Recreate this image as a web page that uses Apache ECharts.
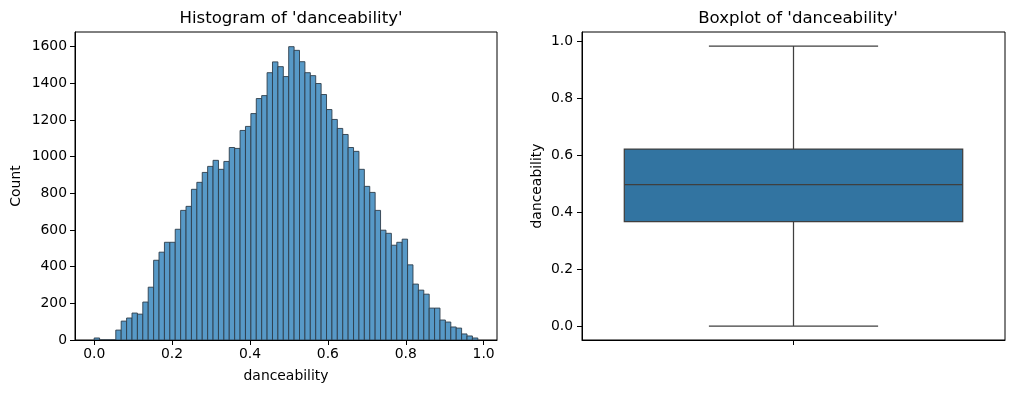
<!DOCTYPE html>
<html>
<head>
<meta charset="utf-8">
<script src="https://cdn.jsdelivr.net/npm/echarts@6/dist/echarts.min.js"></script>
<style>
html,body{margin:0;padding:0;background:#fff;}
#chart{width:1014px;height:393px;}
</style>
</head>
<body>
<div id="chart"></div>
<script>
// Histogram: 71 equal bins spanning [0, 0.985]
const histMin = 0;
const histMax = 0.985;
const histCounts = [11,0,0,0,54,103,120,147,141,207,288,435,479,533,533,604,707,729,822,860,914,947,980,931,974,1050,1045,1143,1165,1235,1317,1333,1458,1517,1491,1437,1600,1580,1518,1458,1442,1399,1339,1257,1203,1154,1121,1050,1029,931,838,805,707,599,582,517,533,550,410,305,272,250,174,174,109,98,71,65,33,22,11];
const histXTicks = [0, 0.2, 0.4, 0.6, 0.8, 1.0];
const histYTicks = [0, 200, 400, 600, 800, 1000, 1200, 1400, 1600];

// Boxplot statistics: [whisker low, Q1, median, Q3, whisker high]
const boxCategories = [''];
const boxStats = [0.0, 0.367, 0.497, 0.6225, 0.985];
const boxYTicks = [0, 0.2, 0.4, 0.6, 0.8, 1.0];

const binWidth = (histMax - histMin) / histCounts.length;
const histData = histCounts.map((c, i) => [histMin + i * binWidth, histMin + (i + 1) * binWidth, c]);

const FONT = 'DejaVu Sans';
const txt = {fontFamily: FONT, fontSize: 13.9, color: '#000'};
const titleTxt = {fontFamily: FONT, fontSize: 16.6, fontWeight: 'normal', color: '#000'};

const chart = echarts.init(document.getElementById('chart'), null, {renderer: 'canvas'});
chart.setOption({
  animation: false,
  backgroundColor: '#fff',
  title: [
    {text: "Histogram of 'danceability'", left: 286, top: 5, textAlign: 'center', textStyle: titleTxt},
    {text: "Boxplot of 'danceability'", left: 793, top: 5, textAlign: 'center', textStyle: titleTxt}
  ],
  grid: [
    {left: 75, top: 32, width: 422, height: 308, show: true, borderColor: '#000', borderWidth: 1, backgroundColor: 'transparent'},
    {left: 582, top: 32, width: 423, height: 308, show: true, borderColor: '#000', borderWidth: 1, backgroundColor: 'transparent'}
  ],
  xAxis: [
    {type: 'value', gridIndex: 0, min: -0.04925, max: 1.03425,
     name: 'danceability', nameLocation: 'middle', nameGap: 29, nameTextStyle: txt,
     axisLine: {show: true, onZero: false, lineStyle: {color: '#000', width: 1}},
     axisTick: {show: true, length: 5, customValues: histXTicks, lineStyle: {color: '#000', width: 1}},
     axisLabel: {customValues: histXTicks, margin: 7, formatter: v => v.toFixed(1), ...txt},
     splitLine: {show: false}},
    {type: 'category', gridIndex: 1, data: boxCategories, boundaryGap: true,
     axisLine: {show: true, onZero: false, lineStyle: {color: '#000', width: 1}},
     axisTick: {show: true, length: 5, alignWithLabel: true, lineStyle: {color: '#000', width: 1}},
     axisLabel: {show: true, formatter: () => '', ...txt},
     splitLine: {show: false}}
  ],
  yAxis: [
    {type: 'value', gridIndex: 0, min: 0, max: 1680,
     name: 'Count', nameLocation: 'middle', nameGap: 52, nameRotate: 90, nameTextStyle: txt,
     axisLine: {show: true, onZero: false, lineStyle: {color: '#000', width: 1}},
     axisTick: {show: true, length: 5, customValues: histYTicks, lineStyle: {color: '#000', width: 1}},
     axisLabel: {customValues: histYTicks, margin: 8, formatter: v => String(v), ...txt},
     splitLine: {show: false}},
    {type: 'value', gridIndex: 1, min: -0.04925, max: 1.03425,
     name: 'danceability', nameLocation: 'middle', nameGap: 38, nameRotate: 90, nameTextStyle: txt,
     axisLine: {show: true, onZero: false, lineStyle: {color: '#000', width: 1}},
     axisTick: {show: true, length: 5, customValues: boxYTicks, lineStyle: {color: '#000', width: 1}},
     axisLabel: {customValues: boxYTicks, margin: 9, formatter: v => v.toFixed(1), ...txt},
     splitLine: {show: false}}
  ],
  series: [
    {
      type: 'custom', xAxisIndex: 0, yAxisIndex: 0,
      data: histData,
      clip: true,
      renderItem: function (params, api) {
        const p0 = api.coord([api.value(0), 0]);
        const p1 = api.coord([api.value(1), api.value(2)]);
        return {
          type: 'rect',
          shape: {x: p0[0], y: p1[1], width: p1[0] - p0[0], height: p0[1] - p1[1]},
          style: {fill: '#5799C7', stroke: '#2e3d4b', lineWidth: 0.9}
        };
      }
    },
    {
      type: 'custom', xAxisIndex: 1, yAxisIndex: 1,
      data: [[0].concat(boxStats)],
      renderItem: function (params, api) {
        const cat = api.value(0);
        const band = api.size([1, 0])[0];
        const boxW = band * 0.8;
        const capW = boxW / 2;
        const pLo = api.coord([cat, api.value(1)]);
        const pQ1 = api.coord([cat, api.value(2)]);
        const pMed = api.coord([cat, api.value(3)]);
        const pQ3 = api.coord([cat, api.value(4)]);
        const pHi = api.coord([cat, api.value(5)]);
        const cx = pMed[0];
        const ls = {stroke: '#3f3f3f', lineWidth: 1.25, fill: null};
        return {
          type: 'group',
          children: [
            {type: 'line', shape: {x1: cx, y1: pQ3[1], x2: cx, y2: pHi[1]}, style: ls},
            {type: 'line', shape: {x1: cx, y1: pQ1[1], x2: cx, y2: pLo[1]}, style: ls},
            {type: 'line', shape: {x1: cx - capW / 2, y1: pHi[1], x2: cx + capW / 2, y2: pHi[1]}, style: ls},
            {type: 'line', shape: {x1: cx - capW / 2, y1: pLo[1], x2: cx + capW / 2, y2: pLo[1]}, style: ls},
            {type: 'rect', shape: {x: cx - boxW / 2, y: pQ3[1], width: boxW, height: pQ1[1] - pQ3[1]},
             style: {fill: '#3274A1', stroke: '#3f3f3f', lineWidth: 1.25}},
            {type: 'line', shape: {x1: cx - boxW / 2, y1: pMed[1], x2: cx + boxW / 2, y2: pMed[1]}, style: ls}
          ]
        };
      }
    }
  ]
});
</script>
</body>
</html>
